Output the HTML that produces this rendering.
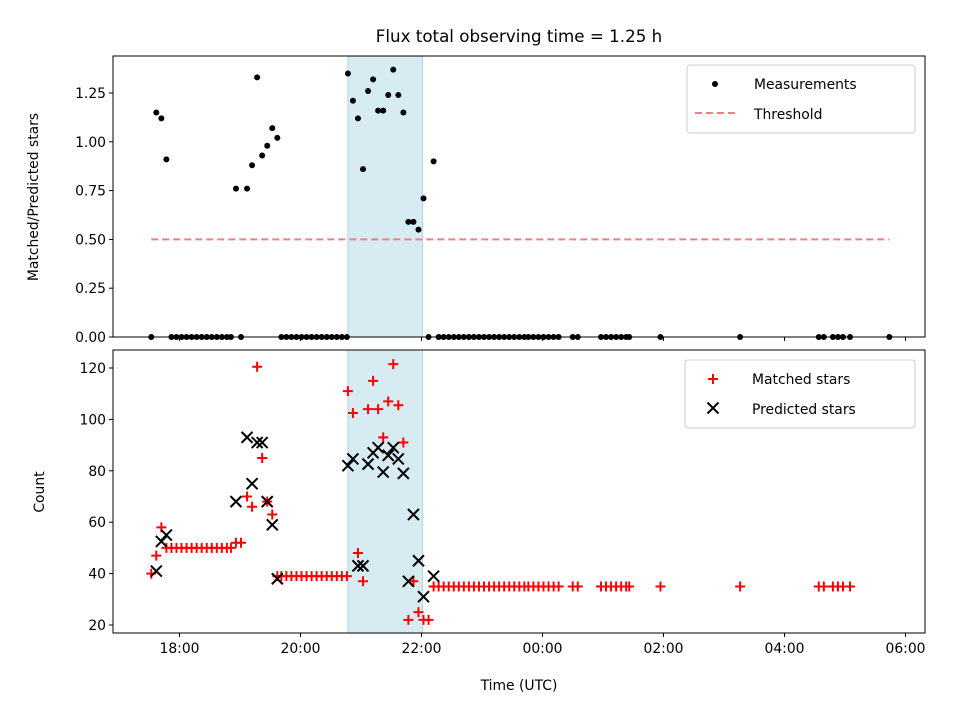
<!DOCTYPE html>
<html><head><meta charset="utf-8"><style>
body{margin:0;background:#fff;}
svg{display:block;font-family:"DejaVu Sans","Liberation Sans",sans-serif;}
</style></head><body>
<svg id="chart" width="960" height="720" viewBox="0 0 960 720"></svg>
<script>
// times in minutes since 17:00 UTC
const obsMinutes=[32,37,42,47,52,57,62,67,72,77,82,87,92,97,102,107,111,116,121,127,132,137,142,147,152,157,161,166,171,176,181,186,191,196,201,206,211,216,221,226,227,232,237,242,247,252,257,262,267,272,277,282,287,292,297,302,307,312,317,322,327,332,337,342,347,352,357,362,367,372,377,382,387,392,397,402,406,411,416,421,426,431,436,450,455,478,483,488,493,498,503,506,537,616,694,699,708,713,718,725,764];
const matchedStars=[40,47,58,50,50,50,50,50,50,50,50,50,50,50,50,50,50,52,52,70,66,120.5,85,68,63,39,39,39,39,39,39,39,39,39,39,39,39,39,39,39,111,102.5,48,37,104,115,104,93,107,121.5,105.5,91,22,37,25,22,22,35,35,35,35,35,35,35,35,35,35,35,35,35,35,35,35,35,35,35,35,35,35,35,35,35,35,35,35,35,35,35,35,35,35,35,35,35,35,35,35,35,35,35];
const ratioValues=[0,1.15,1.12,0.91,0,0,0,0,0,0,0,0,0,0,0,0,0,0.76,0,0.76,0.88,1.33,0.93,0.98,1.07,1.02,0,0,0,0,0,0,0,0,0,0,0,0,0,0,1.35,1.21,1.12,0.86,1.26,1.32,1.16,1.16,1.24,1.37,1.24,1.15,0.59,0.59,0.55,0.71,0,0.90,0,0,0,0,0,0,0,0,0,0,0,0,0,0,0,0,0,0,0,0,0,0,0,0,0,0,0,0,0,0,0,0,0,0,0,0,0,0,0,0,0,0,0];
const predMinutes=[37,42,47,116,127,132,137,142,147,152,157,227,232,237,242,247,252,257,262,267,272,277,282,287,292,297,302,312];
const predictedStars=[41,52.5,55,68,93,75,91,91,68,59,38,82,84.6,43,43,82.6,87,89,79.5,86,89,84.6,79,37,63,45,31,39];
const xTickMinutes=[60,180,300,420,540,660,780];
const xTickLabels=["18:00","20:00","22:00","00:00","02:00","04:00","06:00"];
const topTicks=[0,0.25,0.5,0.75,1.0,1.25];
const bottomTicks=[20,40,60,80,100,120];
const threshold=0.5;
const shadeStart=227, shadeEnd=301;

const NS="http://www.w3.org/2000/svg";
const svg=document.getElementById('chart');
function el(tag,attrs,parent){const e=document.createElementNS(NS,tag);for(const k in attrs)e.setAttribute(k,attrs[k]);(parent||svg).appendChild(e);return e;}
const L=113,R=925;
const X=m=>179.5+(m-60)*60.5/60;
const Yt=v=>337-v*195.2;
const Yb=v=>625-(v-20)*2.57;

let t=el('text',{x:519,y:42,'text-anchor':'middle','font-size':16.7});t.textContent='Flux total observing time = 1.25 h';



function panel(top,bot,name){
  const g=el('g',{});
  
  
  const s=el('rect',{x:X(shadeStart),y:top,width:X(shadeEnd)-X(shadeStart),height:bot-top,fill:'#add8e6','fill-opacity':0.5,stroke:'#add8e6'},g);
  
  
  return g;
}
function frame(g,top,bot){el('rect',{x:L,y:top,width:R-L,height:bot-top,fill:'none',stroke:'#000','stroke-width':1},g);}

// top panel
const gt=panel(56,337,'ratio-panel');
const th=el('line',{x1:X(obsMinutes[0]),x2:X(obsMinutes[obsMinutes.length-1]),y1:Yt(threshold),y2:Yt(threshold),stroke:'#f08080','stroke-width':2,'stroke-dasharray':'7,4'},gt);


obsMinutes.forEach((m,i)=>{
  const c=el('circle',{cx:X(m),cy:Yt(ratioValues[i]),r:3,fill:'#000'},gt);
  
  
});
frame(gt,56,337);
topTicks.forEach(v=>{
  el('line',{x1:L-4,x2:L,y1:Yt(v),y2:Yt(v),stroke:'#000'},gt);
  const tx=el('text',{x:L-7,y:Yt(v)+5,'text-anchor':'end','font-size':13.9},gt);tx.textContent=v.toFixed(2);
  
  
});
xTickMinutes.forEach(m=>el('line',{x1:X(m),x2:X(m),y1:337,y2:341,stroke:'#000'},gt));
let yl=el('text',{x:38,y:197,'text-anchor':'middle','font-size':13.9,transform:'rotate(-90 38 197)'},gt);yl.textContent='Matched/Predicted stars';


// legend top
const lg=el('g',{},gt);


el('rect',{x:687,y:65,width:228,height:68,rx:3,fill:'#fff','fill-opacity':0.8,stroke:'#ccc'},lg);
el('circle',{cx:715,cy:84,r:3,fill:'#000'},lg);
let lt=el('text',{x:754,y:89,'font-size':13.9},lg);lt.textContent='Measurements';
el('line',{x1:695,x2:735,y1:113,y2:113,stroke:'#f08080','stroke-width':2,'stroke-dasharray':'7,4'},lg);
lt=el('text',{x:754,y:119,'font-size':13.9},lg);lt.textContent='Threshold';

// bottom panel
const gb=panel(350,633,'count-panel');
obsMinutes.forEach((m,i)=>{
  const x=X(m),y=Yb(matchedStars[i]);
  const p=el('path',{d:`M${x-5},${y}H${x+5}M${x},${y-5}V${y+5}`,stroke:'#f00','stroke-width':2},gb);
  
  
});
predMinutes.forEach((m,i)=>{
  const x=X(m),y=Yb(predictedStars[i]);
  const p=el('path',{d:`M${x-5.5},${y-5.5}L${x+5.5},${y+5.5}M${x-5.5},${y+5.5}L${x+5.5},${y-5.5}`,stroke:'#000','stroke-width':2},gb);
  
  
});
frame(gb,350,633);
bottomTicks.forEach(v=>{
  el('line',{x1:L-4,x2:L,y1:Yb(v),y2:Yb(v),stroke:'#000'},gb);
  const tx=el('text',{x:L-7,y:Yb(v)+5,'text-anchor':'end','font-size':13.9},gb);tx.textContent=v;
  
  
});
xTickMinutes.forEach((m,i)=>{
  el('line',{x1:X(m),x2:X(m),y1:633,y2:637,stroke:'#000'},gb);
  const tx=el('text',{x:X(m),y:653,'text-anchor':'middle','font-size':13.9},gb);tx.textContent=xTickLabels[i];
  
  
});
yl=el('text',{x:44,y:492,'text-anchor':'middle','font-size':13.9,transform:'rotate(-90 44 492)'},gb);yl.textContent='Count';


const xl=el('text',{x:519,y:690,'text-anchor':'middle','font-size':13.9},gb);xl.textContent='Time (UTC)';


const lb=el('g',{},gb);


el('rect',{x:685,y:360,width:230,height:68,rx:3,fill:'#fff','fill-opacity':0.8,stroke:'#ccc'},lb);
el('path',{d:'M708,379H718M713,374V384',stroke:'#f00','stroke-width':2},lb);
lt=el('text',{x:752,y:384,'font-size':13.9},lb);lt.textContent='Matched stars';
el('path',{d:'M707.5,402.5L718.5,413.5M707.5,413.5L718.5,402.5',stroke:'#000','stroke-width':2},lb);
lt=el('text',{x:752,y:414,'font-size':13.9},lb);lt.textContent='Predicted stars';
</script>
</body></html>
